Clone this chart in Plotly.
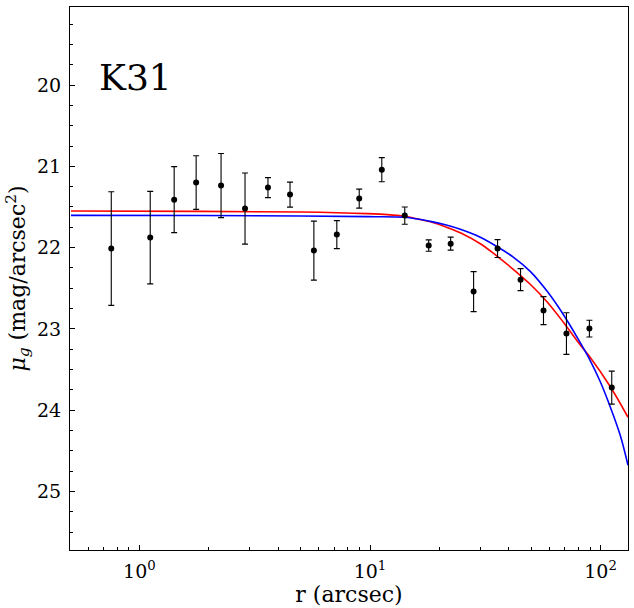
import plotly.graph_objects as go
import numpy as np

# Data points (radius in arcsec, surface brightness, error)
r_obs = [0.755, 1.114, 1.415, 1.762, 2.26, 2.871, 3.61, 4.50, 5.71, 7.18, 8.98,
         11.25, 14.15, 17.97, 22.38, 28.14, 35.75, 44.97, 56.55, 71.11, 89.44, 111.8]
mu_obs = [22.012, 21.877, 21.410, 21.200, 21.237, 21.520, 21.262, 21.348, 22.037, 21.840, 21.397,
          21.041, 21.606, 21.975, 21.951, 22.541, 22.012, 22.394, 22.775, 23.058, 22.996, 23.722]
mu_err = [0.699, 0.569, 0.406, 0.330, 0.394, 0.437, 0.123, 0.154, 0.363, 0.172, 0.117,
          0.148, 0.106, 0.070, 0.080, 0.246, 0.110, 0.135, 0.172, 0.256, 0.103, 0.203]

# Red model curve
r_red = [0.505, 1.846, 5.00, 9.75, 11.91, 14.11, 16.05, 18.28, 21.22, 24.65, 30.09, 35.64,
         41.81, 49.54, 58.67, 68.82, 81.52, 90.06, 109.9, 131.5]
mu_red = [21.550, 21.554, 21.562, 21.582, 21.594, 21.615, 21.646, 21.683, 21.744, 21.818, 21.953, 22.107,
          22.267, 22.451, 22.669, 22.915, 23.196, 23.349, 23.706, 24.087]

# Blue model curve
r_blue = [0.505, 1.846, 5.00, 9.75, 14.11, 18.28, 21.22, 24.65, 30.09, 35.64, 41.81, 49.54,
          58.67, 68.82, 79.1, 90.06, 99.5, 109.9, 121.5, 131.5]
mu_blue = [21.603, 21.605, 21.611, 21.619, 21.627, 21.677, 21.720, 21.775, 21.873, 21.990, 22.116, 22.292,
           22.538, 22.820, 23.103, 23.386, 23.644, 23.952, 24.303, 24.678]

x_tickvals = [1, 10, 100]
x_ticktext = ["10<sup>0</sup>", "10<sup>1</sup>", "10<sup>2</sup>"]
x_minor = [0.6, 0.7, 0.8, 0.9, 2, 3, 4, 5, 6, 7, 8, 9, 20, 30, 40, 50, 60, 70, 80, 90]
y_tickvals = [20, 21, 22, 23, 24, 25]

FONT = "DejaVu Serif"

fig = go.Figure()
fig.add_trace(go.Scatter(x=r_red, y=mu_red, mode="lines", line=dict(color="red", width=1.6, shape="spline", smoothing=1.0), hoverinfo="skip"))
fig.add_trace(go.Scatter(x=r_blue, y=mu_blue, mode="lines", line=dict(color="blue", width=1.6, shape="spline", smoothing=1.0), hoverinfo="skip"))
fig.add_trace(go.Scatter(
    x=r_obs, y=mu_obs, mode="markers",
    marker=dict(color="black", size=6),
    error_y=dict(type="data", array=mu_err, visible=True, color="black", thickness=1.1, width=3),
))

fig.update_layout(
    width=634, height=608,
    margin=dict(l=70, r=6, t=7, b=58),
    paper_bgcolor="white", plot_bgcolor="white",
    showlegend=False,
    font=dict(family=FONT, color="black", size=19),
    xaxis=dict(
        type="log", range=[np.log10(0.5), np.log10(131.5)],
        tickvals=x_tickvals, ticktext=x_ticktext,
        ticks="inside", ticklen=5, tickwidth=1.1, tickcolor="black",
        minor=dict(tickvals=x_minor, ticks="inside", ticklen=3, tickwidth=0.8, tickcolor="black"),
        showline=True, linecolor="black", linewidth=1.1, mirror=True,
        showgrid=False, zeroline=False, automargin=False,
        tickfont=dict(family=FONT, size=19),
        ticklabelstandoff=4,
        title=dict(text="r (arcsec)", font=dict(family=FONT, size=22), standoff=0),
    ),
    yaxis=dict(
        range=[25.72, 19.04],
        tickvals=y_tickvals,
        ticks="inside", ticklen=5, tickwidth=1.1, tickcolor="black",
        minor=dict(dtick=0.25, ticks="inside", ticklen=3, tickwidth=0.8, tickcolor="black", showgrid=False),
        showline=True, linecolor="black", linewidth=1.1, mirror=True,
        showgrid=False, zeroline=False, automargin=False,
        tickfont=dict(family=FONT, size=19),
        ticklabelstandoff=4,
        title=dict(text="<i>μ</i><sub><i>g</i></sub> (mag/arcsec<sup>2</sup>)", font=dict(family=FONT, size=22), standoff=5),
    ),
    annotations=[dict(text="K31", x=0.048, y=0.871, xref="paper", yref="paper",
                      xanchor="left", yanchor="middle", showarrow=False,
                      font=dict(family=FONT, size=36, color="black"))],
)

fig.write_html("out.html", config={"displayModeBar": False},
               post_script="document.body.style.margin='0';document.body.style.overflow='hidden';")
